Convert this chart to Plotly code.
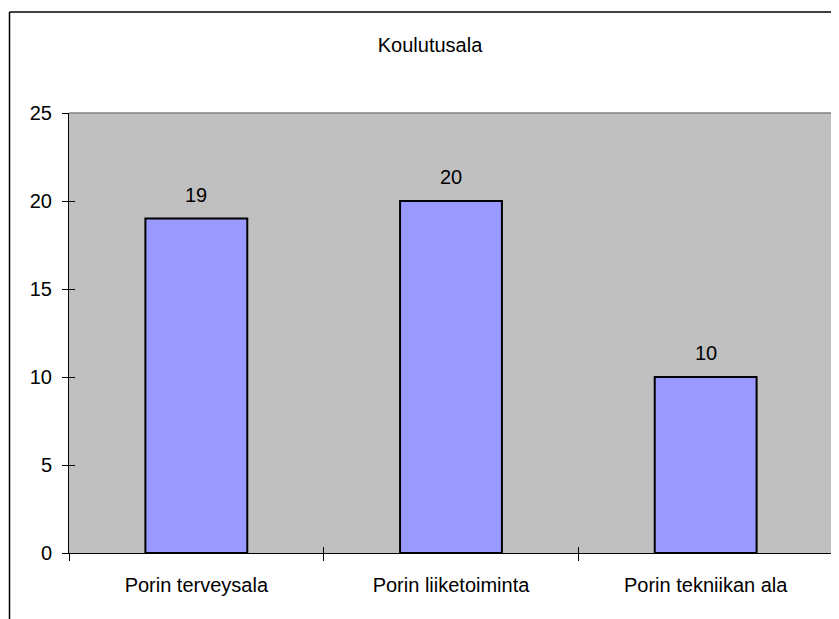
import plotly.graph_objects as go

CATEGORIES = ["Porin terveysala", "Porin liiketoiminta", "Porin tekniikan ala"]
VALUES = [19, 20, 10]
TITLE = "Koulutusala"

# page body has an 8px margin, so the figure is drawn from (8, 8)
W, H = 831, 611
L, R, T, B = 61, 6, 105, 66
PW = W - L - R
PH = H - T - B

FONT = "Liberation Sans, Arial, sans-serif"
FS = 20

fig = go.Figure()
fig.add_trace(
    go.Bar(
        x=CATEGORIES,
        y=VALUES,
        width=0.4,
        marker={"color": "#9999FF", "line": {"color": "#000000", "width": 2}},
        hoverinfo="x+y",
    )
)
# transparent twin so the overlay axes (inner half of the crossing ticks) render
fig.add_trace(
    go.Bar(
        x=CATEGORIES,
        y=VALUES,
        width=0.4,
        xaxis="x2",
        yaxis="y2",
        marker={"color": "rgba(0,0,0,0)", "line": {"width": 0}},
        hoverinfo="skip",
    )
)

for cat, val in zip(CATEGORIES, VALUES):
    fig.add_annotation(
        x=cat, y=val, text=str(val), showarrow=False,
        yshift=24, font={"size": FS, "color": "#000000", "family": FONT},
    )

# outer chart frame (only left and top edges are visible)
fx0 = (1.5 - L) / PW
fy1 = 1 + (T - 4) / PH
fx1 = 1 + (R + 5) / PW
fy0 = -(B + 10) / PH
fig.add_shape(type="line", xref="paper", yref="paper", x0=fx0, x1=fx0, y0=fy0, y1=fy1,
              line={"color": "#000000", "width": 1.5})
fig.add_shape(type="line", xref="paper", yref="paper", x0=fx0, x1=fx1, y0=fy1, y1=fy1,
              line={"color": "#000000", "width": 1.5})
# plot area border (top and right, gray)
fig.add_shape(type="line", xref="paper", yref="paper", x0=0, x1=1, y0=1, y1=1,
              line={"color": "#808080", "width": 1.5})
fig.add_shape(type="line", xref="paper", yref="paper", x0=1, x1=1, y0=0, y1=1,
              line={"color": "#808080", "width": 1.5})

fig.update_layout(
    width=W,
    height=H,
    margin={"l": L, "r": R, "t": T, "b": B, "pad": 0},
    paper_bgcolor="#FFFFFF",
    plot_bgcolor="#C0C0C0",
    showlegend=False,
    bargap=0.6,
    barmode="overlay",
    font={"family": FONT, "size": FS, "color": "#000000"},
    title={"text": TITLE, "x": 422 / W, "xanchor": "center",
           "y": 1 - 37 / H, "yanchor": "middle",
           "font": {"size": FS, "family": FONT, "color": "#000000"}},
    xaxis={
        "type": "category",
        "tickson": "boundaries",
        "ticks": "outside",
        "ticklen": 7,
        "tickcolor": "#000000",
        "showline": True,
        "linecolor": "#000000",
        "linewidth": 1,
        "showgrid": False,
        "ticklabelstandoff": 14,
        "tickfont": {"size": FS},
    },
    xaxis2={
        "type": "category",
        "overlaying": "x",
        "anchor": "y",
        "side": "bottom",
        "tickson": "boundaries",
        "ticks": "inside",
        "ticklen": 6,
        "tickcolor": "#000000",
        "showticklabels": False,
        "showline": False,
        "showgrid": False,
    },
    yaxis={
        "range": [0, 25],
        "dtick": 5,
        "ticks": "outside",
        "ticklen": 6,
        "tickcolor": "#000000",
        "showline": True,
        "linecolor": "#000000",
        "linewidth": 1,
        "showgrid": False,
        "zeroline": False,
        "ticklabelstandoff": 6,
        "tickfont": {"size": FS},
    },
    yaxis2={
        "range": [0, 25],
        "dtick": 5,
        "overlaying": "y",
        "anchor": "x",
        "side": "left",
        "ticks": "inside",
        "ticklen": 6,
        "tickcolor": "#000000",
        "showticklabels": False,
        "showline": False,
        "showgrid": False,
        "zeroline": False,
    },
)

fig.write_html("out.html")
